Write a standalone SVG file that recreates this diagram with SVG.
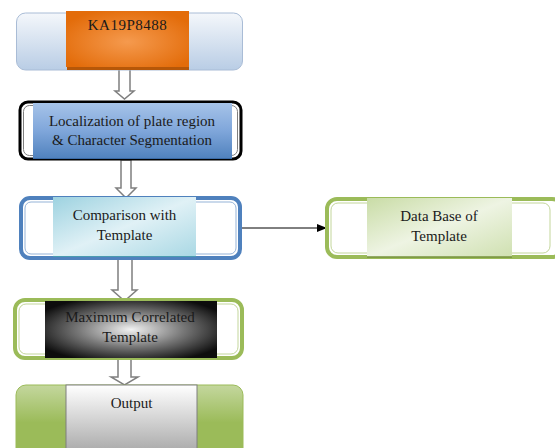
<svg xmlns="http://www.w3.org/2000/svg" width="555" height="448" viewBox="0 0 555 448">
<defs>
  <linearGradient id="gPale" x1="0" y1="0" x2="0" y2="1">
    <stop offset="0" stop-color="#f4f7fb"/>
    <stop offset="1" stop-color="#b9cde5"/>
  </linearGradient>
  <radialGradient id="gOrange" cx="0.5" cy="0.55" r="0.6">
    <stop offset="0" stop-color="#f59a4e"/>
    <stop offset="1" stop-color="#e36c0a"/>
  </radialGradient>
  <linearGradient id="gBlue" x1="0" y1="0" x2="0" y2="1">
    <stop offset="0" stop-color="#a6c3e8"/>
    <stop offset="0.5" stop-color="#7fa6da"/>
    <stop offset="1" stop-color="#4f81bd"/>
  </linearGradient>
  <linearGradient id="gCyan" x1="0" y1="0" x2="1" y2="1">
    <stop offset="0" stop-color="#9dd2e0"/>
    <stop offset="0.5" stop-color="#e0f1f6"/>
    <stop offset="1" stop-color="#a9d8e4"/>
  </linearGradient>
  <linearGradient id="gLime" x1="0" y1="0" x2="1" y2="1">
    <stop offset="0" stop-color="#c9dca6"/>
    <stop offset="0.5" stop-color="#eef4e3"/>
    <stop offset="1" stop-color="#cfe0b0"/>
  </linearGradient>
  <radialGradient id="gBlack" cx="0.5" cy="0.5" r="0.6">
    <stop offset="0" stop-color="#f2f2f2"/>
    <stop offset="0.5" stop-color="#7a7a7a"/>
    <stop offset="1" stop-color="#0d0d0d"/>
  </radialGradient>
  <linearGradient id="gGreen" x1="0" y1="0" x2="0" y2="1">
    <stop offset="0" stop-color="#c4d79e"/>
    <stop offset="0.5" stop-color="#9bbb59"/>
    <stop offset="1" stop-color="#9bbb59"/>
  </linearGradient>
  <linearGradient id="gGrey" x1="0" y1="0" x2="0" y2="1">
    <stop offset="0" stop-color="#ffffff"/>
    <stop offset="1" stop-color="#a6a6a6"/>
  </linearGradient>
  <marker id="ah" markerWidth="10" markerHeight="8" refX="9" refY="4" orient="auto" markerUnits="userSpaceOnUse">
    <path d="M0,0 L10,4 L0,8 Z" fill="#000"/>
  </marker>
  <style>
    text { font-family: "Liberation Serif", "Times New Roman", "DejaVu Serif", serif; font-size: 15px; fill: #1a1a1a; text-anchor: middle; }
    .hollow { fill: #ffffff; stroke: #7f7f7f; stroke-width: 1.5; }
    .greenOuter { fill: #ffffff; stroke: #9bbb59; stroke-width: 4; }
    .greenInner { fill: none; stroke: #c3d69b; stroke-width: 1; }
  </style>
</defs>

<g id="connectors">
  <path class="hollow" d="M119,69 H130 V91 H134 L124.5,99 L115,91 H119 Z"/>
  <path class="hollow" d="M121,160 H131 V188 H136 L126,198 L116,188 H121 Z"/>
  <path class="hollow" d="M118,258 H132 V290 H137 L124.5,301 L112,290 H118 Z"/>
  <path class="hollow" d="M118,358 H131 V377 H138 L124.5,385 L111,377 H118 Z"/>
  <line x1="242" y1="228" x2="326" y2="228" stroke="#000" stroke-width="1" marker-end="url(#ah)"/>
</g>

<g id="node-plate">
  <rect x="16.5" y="13" width="226" height="57" rx="9" fill="url(#gPale)" stroke="#a9bcd6" stroke-width="1"/>
  <rect x="67" y="13" width="122" height="57" fill="#b65708"/>
  <rect x="66" y="11" width="123" height="56" fill="url(#gOrange)"/>
  <text x="127.5" y="30" style="letter-spacing:0.5px">KA19P8488</text>
</g>

<g id="node-localization">
  <rect x="20" y="102" width="221" height="57" rx="8" fill="#ffffff" stroke="#000" stroke-width="3"/>
  <rect x="23.5" y="105.5" width="214" height="50" rx="6" fill="none" stroke="#7f7f7f" stroke-width="1"/>
  <rect x="33" y="103" width="199" height="56" fill="url(#gBlue)"/>
  <line x1="33" y1="158.5" x2="232" y2="158.5" stroke="#3a6aa5" stroke-width="1"/>
  <text x="132" y="126">Localization of plate region</text>
  <text x="132" y="145">&amp; Character Segmentation</text>
</g>

<g id="node-comparison">
  <rect x="21" y="198" width="219" height="60" rx="9" fill="#ffffff" stroke="#4f81bd" stroke-width="4"/>
  <rect x="25" y="202" width="211" height="52" rx="6" fill="none" stroke="#95b3d7" stroke-width="1"/>
  <rect x="53" y="197" width="143" height="60" fill="url(#gCyan)"/>
  <line x1="53" y1="256.5" x2="196" y2="256.5" stroke="#4a9bb0" stroke-width="1.2"/>
  <text x="124.5" y="220">Comparison with</text>
  <text x="124.5" y="240">Template</text>
</g>

<g id="node-database">
  <rect class="greenOuter" x="327" y="199" width="235" height="58" rx="10"/>
  <rect class="greenInner" x="331" y="203" width="219" height="50" rx="7"/>
  <rect x="367" y="198" width="145" height="59" fill="url(#gLime)"/>
  <line x1="367" y1="257" x2="512" y2="257" stroke="#76923c" stroke-width="1.5"/>
  <text x="439" y="221">Data Base of</text>
  <text x="439" y="241">Template</text>
</g>

<g id="node-maximum">
  <rect class="greenOuter" x="15" y="300" width="227" height="58" rx="10"/>
  <rect class="greenInner" x="19" y="304" width="219" height="50" rx="7"/>
  <rect x="45" y="301" width="172" height="57" fill="url(#gBlack)"/>
  <text x="130" y="322">Maximum Correlated</text>
  <text x="130" y="342">Template</text>
</g>

<g id="node-output">
  <rect x="16" y="385" width="227" height="75" rx="10" fill="url(#gGreen)" stroke="#9bbb59" stroke-width="1"/>
  <rect x="66" y="385" width="131" height="70" fill="url(#gGrey)" stroke="#7f7f7f" stroke-width="1"/>
  <text x="131.5" y="408">Output</text>
</g>
</svg>
